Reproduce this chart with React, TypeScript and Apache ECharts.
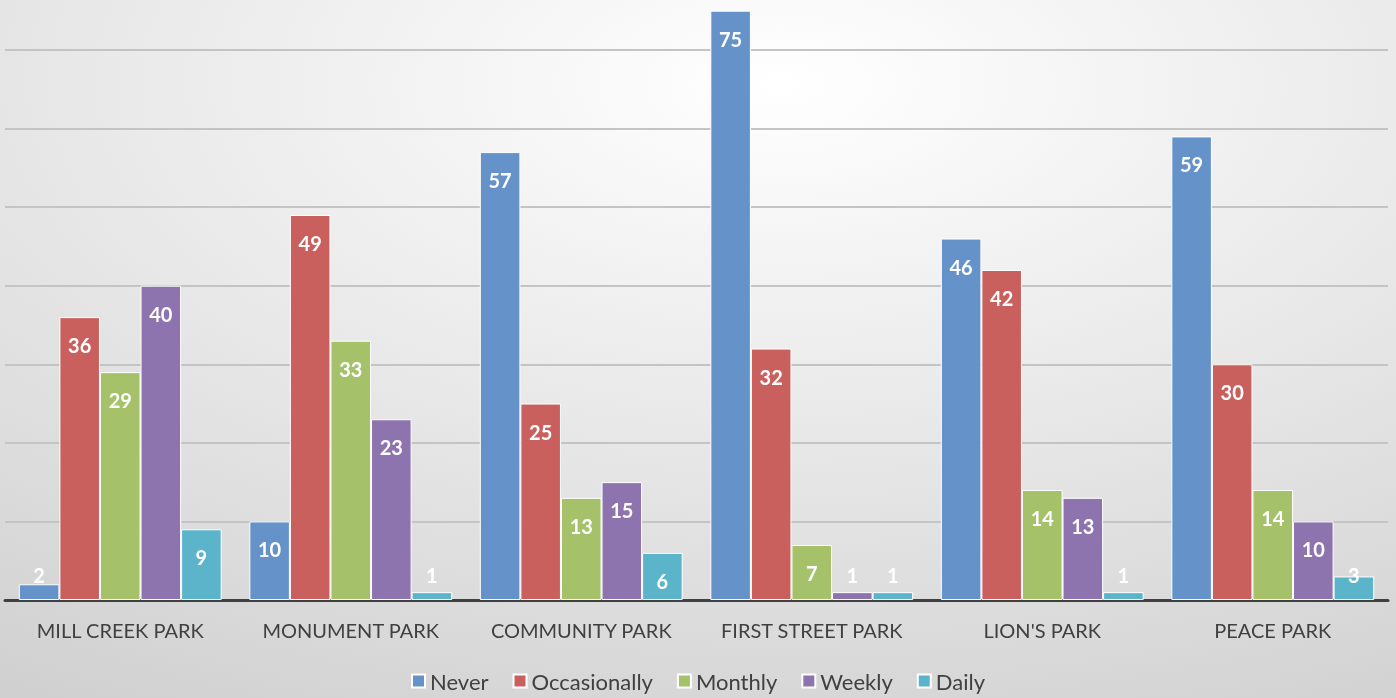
import React, { useEffect, useRef } from "react";
import * as echarts from "echarts";

const categories = ["MILL CREEK PARK", "MONUMENT PARK", "COMMUNITY PARK", "FIRST STREET PARK", "LION'S PARK", "PEACE PARK"];
const seriesNames = ["Never", "Occasionally", "Monthly", "Weekly", "Daily"];
const never = [2, 10, 57, 75, 46, 59];
const occasionally = [36, 49, 25, 32, 42, 30];
const monthly = [29, 33, 13, 7, 14, 14];
const weekly = [40, 23, 15, 1, 13, 10];
const daily = [9, 1, 6, 1, 1, 3];
const colors = ["#6592C8", "#C9605E", "#A5C26B", "#8E74AE", "#5CB4CB"];

const FONT = "Lato, 'Open Sans', sans-serif";

export default function App() {
  const ref = useRef<HTMLDivElement>(null);
  useEffect(() => {
    if (!ref.current) return;
    const chart = echarts.init(ref.current, undefined, { renderer: "svg" });
    const all = [never, occasionally, monthly, weekly, daily];
    const mkData = (vals: number[]) =>
      vals.map((v) =>
        v <= 3
          ? { value: v, label: { position: "insideBottom", distance: 15 } }
          : { value: v }
      );
    chart.setOption({
      animation: false,
      backgroundColor: {
        type: "radial",
        x: 0.56,
        y: 0.12,
        r: 1.25,
        colorStops: [
          { offset: 0, color: "#ffffff" },
          { offset: 1, color: "#c6c6c6" },
        ],
      },
      textStyle: { fontFamily: FONT },
      legend: {
        bottom: 1,
        left: "center",
        itemWidth: 13,
        itemHeight: 13,
        itemGap: 24,
        icon: "rect",
        textStyle: { fontSize: 22, color: "#404040", fontFamily: FONT },
        data: seriesNames,
      },
      grid: { left: 5, right: 8, top: 0, bottom: 98, containLabel: false },
      xAxis: {
        type: "category",
        data: categories,
        axisLine: { lineStyle: { color: "#404040", width: 3 } },
        axisTick: { show: false },
        axisLabel: { fontSize: 20, color: "#404040", margin: 20, fontFamily: FONT, interval: 0 },
      },
      yAxis: {
        type: "value",
        min: 0,
        max: 76.36,
        interval: 10,
        axisLabel: { show: false },
        axisLine: { show: false },
        axisTick: { show: false },
        splitLine: { showMaxLine: false, lineStyle: { color: "#c4c4c4", width: 2 } },
      },
      series: all.map((vals, i) => ({
        name: seriesNames[i],
        type: "bar",
        data: mkData(vals),
        barGap: "0%",
        barCategoryGap: "12%",
        itemStyle: { color: colors[i], borderColor: "#ffffff", borderWidth: 1 },
        label: {
          show: true,
          position: "insideTop",
          distance: 18,
          color: "#ffffff",
          fontWeight: "bold",
          fontSize: 20,
          fontFamily: FONT,
        },
      })),
    });
    return () => chart.dispose();
  }, []);
  return (
    <div
      ref={ref}
      style={{ position: "fixed", left: 0, top: 0, width: 1396, height: 698 }}
    />
  );
}
